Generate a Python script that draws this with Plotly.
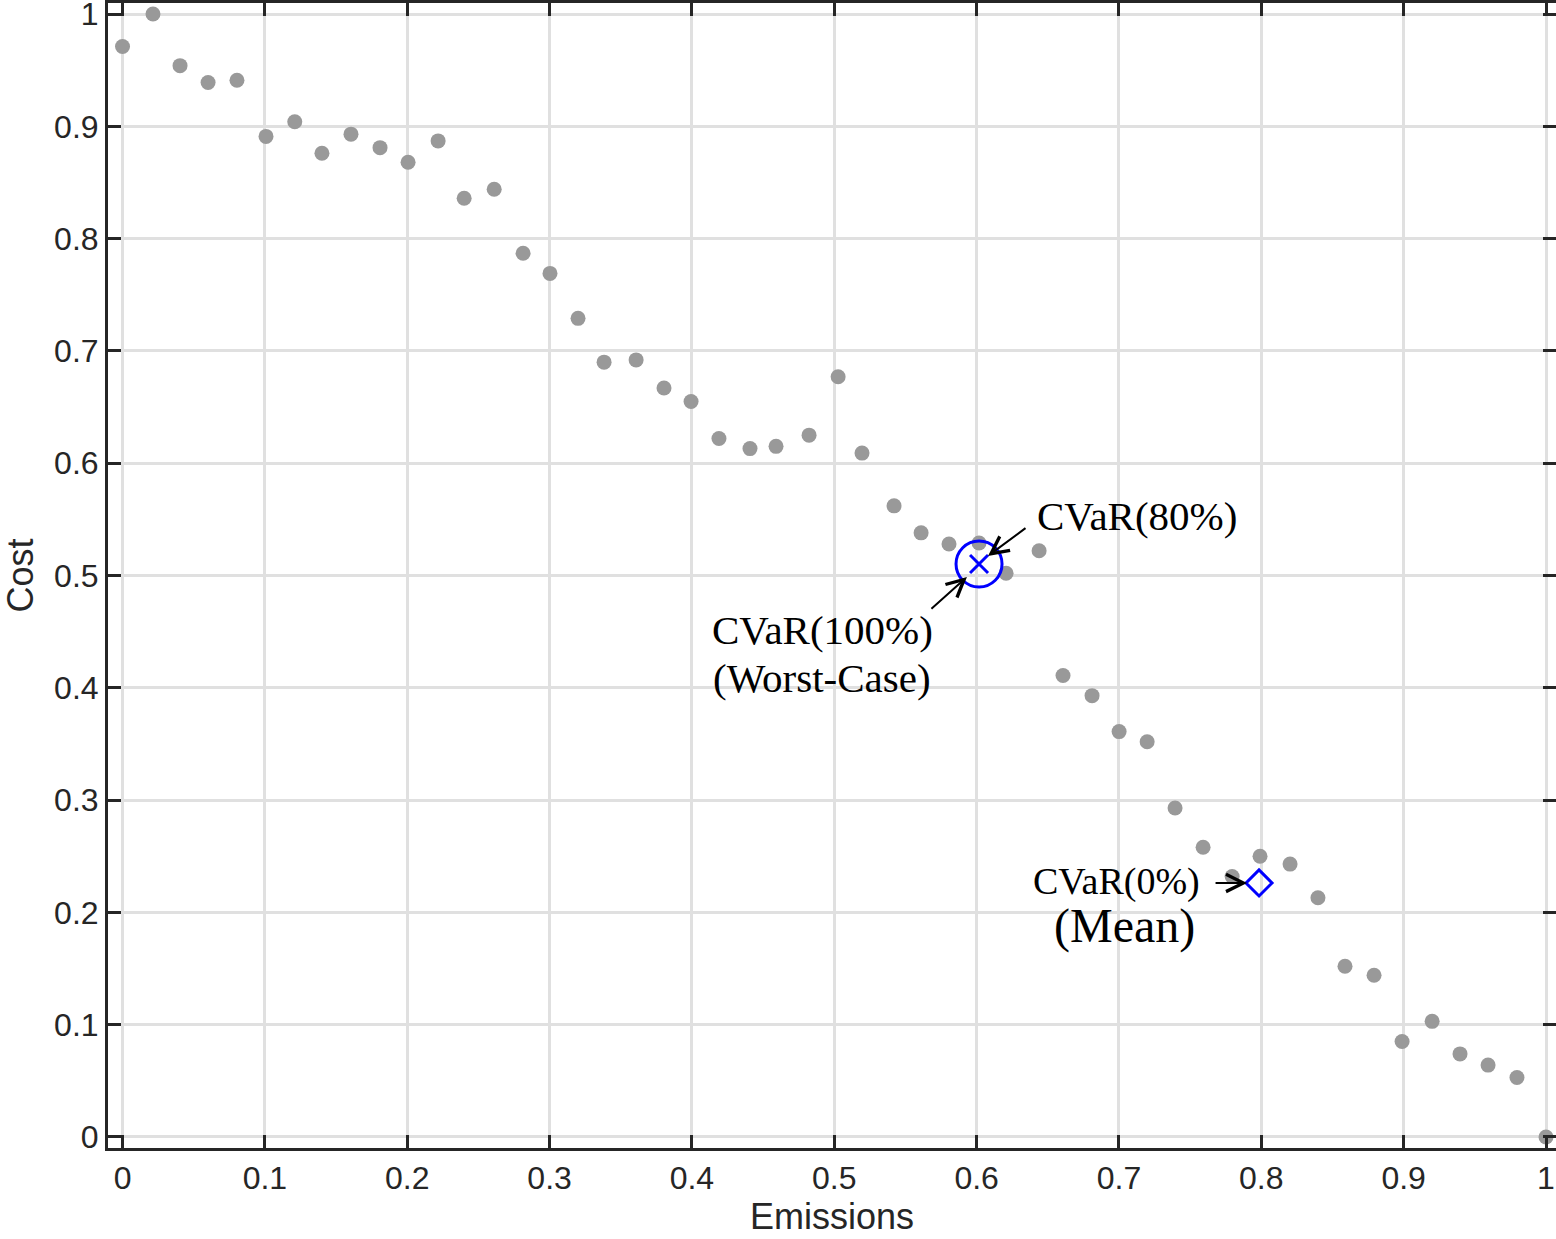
import plotly.graph_objects as go

# Pareto points (Emissions, Cost)
emissions = [0.0, 0.0214, 0.0404, 0.0601, 0.0804, 0.1008, 0.121, 0.1401, 0.1605, 0.1809,
             0.2006, 0.2217, 0.24, 0.2611, 0.2814, 0.3003, 0.32, 0.3383, 0.3608, 0.3804,
             0.3994, 0.419, 0.4408, 0.4591, 0.4823, 0.5027, 0.5195, 0.542, 0.561, 0.5806,
             0.6017, 0.6207, 0.6439, 0.6607, 0.6811, 0.7001, 0.7198, 0.7394, 0.7591, 0.7795,
             0.7991, 0.8202, 0.8398, 0.8588, 0.8792, 0.8989, 0.92, 0.9396, 0.9593, 0.9796, 1.0]
cost = [0.971, 1.0, 0.954, 0.939, 0.941, 0.891, 0.904, 0.876, 0.893, 0.881,
        0.868, 0.887, 0.836, 0.844, 0.787, 0.769, 0.729, 0.690, 0.692, 0.667,
        0.655, 0.622, 0.613, 0.615, 0.625, 0.677, 0.609, 0.562, 0.538, 0.528,
        0.529, 0.502, 0.522, 0.411, 0.393, 0.361, 0.352, 0.293, 0.258, 0.232,
        0.250, 0.243, 0.213, 0.152, 0.144, 0.085, 0.103, 0.074, 0.064, 0.053, 0.0]

# Special solutions
cvar100_x, cvar100_y = [0.6017], [0.5102]
cvar80_x, cvar80_y = [0.6017], [0.5102]
cvar0_x, cvar0_y = [0.7984], [0.2262]

x_ticks = [0, 0.1, 0.2, 0.3, 0.4, 0.5, 0.6, 0.7, 0.8, 0.9, 1]
y_ticks = [0, 0.1, 0.2, 0.3, 0.4, 0.5, 0.6, 0.7, 0.8, 0.9, 1]

DARK = "#262626"
BLUE = "#0000ff"
SERIF = "Liberation Serif"

fig = go.Figure()
fig.add_trace(go.Scatter(x=emissions, y=cost, mode="markers",
                         marker=dict(color="#999999", size=15, line=dict(width=0)),
                         showlegend=False, hoverinfo="x+y"))
fig.add_trace(go.Scatter(x=cvar100_x, y=cvar100_y, mode="markers",
                         marker=dict(symbol="circle-open", size=46, color=BLUE,
                                     line=dict(width=3, color=BLUE)),
                         showlegend=False))
fig.add_trace(go.Scatter(x=cvar80_x, y=cvar80_y, mode="markers",
                         marker=dict(symbol="x-thin-open", size=18, color=BLUE,
                                     line=dict(width=3, color=BLUE)),
                         showlegend=False))
fig.add_trace(go.Scatter(x=cvar0_x, y=cvar0_y, mode="markers",
                         marker=dict(symbol="diamond-open", size=20, color=BLUE,
                                     line=dict(width=3, color=BLUE)),
                         showlegend=False))

# Text labels
texts = [
    dict(x=0.641, y=0.553, text="CVaR(80%)", xanchor="left", size=41),
    dict(x=0.4914, y=0.4515, text="CVaR(100%)", xanchor="center", size=41),
    dict(x=0.4914, y=0.4087, text="(Worst-Case)", xanchor="center", size=41),
    dict(x=0.7582, y=0.2271, text="CVaR(0%)", xanchor="right", size=38),
    dict(x=0.7036, y=0.1879, text="(Mean)", xanchor="center", size=48),
]
for t in texts:
    fig.add_annotation(x=t["x"], y=t["y"], xref="x", yref="y", text=t["text"],
                       showarrow=False, xanchor=t["xanchor"], yanchor="middle",
                       font=dict(family=SERIF, size=t["size"], color="black"))

# Arrows: (tail_x, tail_y, head_x, head_y)
arrows = [
    (0.6354, 0.5432, 0.6080, 0.5174),
    (0.5672, 0.4693, 0.5932, 0.4987),
    (0.7668, 0.2262, 0.7900, 0.2262),
]
for tx, ty, hx, hy in arrows:
    fig.add_annotation(x=hx, y=hy, ax=tx, ay=ty, xref="x", yref="y", axref="x", ayref="y",
                       text="", showarrow=True, arrowhead=5, arrowsize=1.7,
                       arrowwidth=2, arrowcolor="black", standoff=0, startstandoff=0)

axis_common = dict(
    showline=True, linecolor=DARK, linewidth=3, mirror="ticks",
    ticks="inside", ticklen=13, tickwidth=3, tickcolor=DARK,
    showgrid=True, gridcolor="#e0e0e0", gridwidth=3, zeroline=False,
    tickfont=dict(family="Liberation Sans", size=32, color=DARK),
    ticklabeloverflow="allow", automargin=False,
)
fig.update_xaxes(range=[-0.0102, 1.00702], tickvals=x_ticks,
                 title=dict(text="Emissions", font=dict(family="Liberation Sans", size=36, color=DARK),
                            standoff=8),
                 **axis_common)
fig.update_yaxes(range=[-0.0098, 1.0098], tickvals=y_ticks,
                 title=dict(text="Cost", font=dict(family="Liberation Sans", size=36, color=DARK),
                            standoff=12),
                 **axis_common)

fig.update_layout(width=1556, height=1239, margin=dict(l=108, r=0, t=3, b=91, autoexpand=False),
                  plot_bgcolor="white", paper_bgcolor="white", showlegend=False)

fig.write_html("out.html", config={"displayModeBar": False},
               post_script="document.body.style.margin='0px';")
